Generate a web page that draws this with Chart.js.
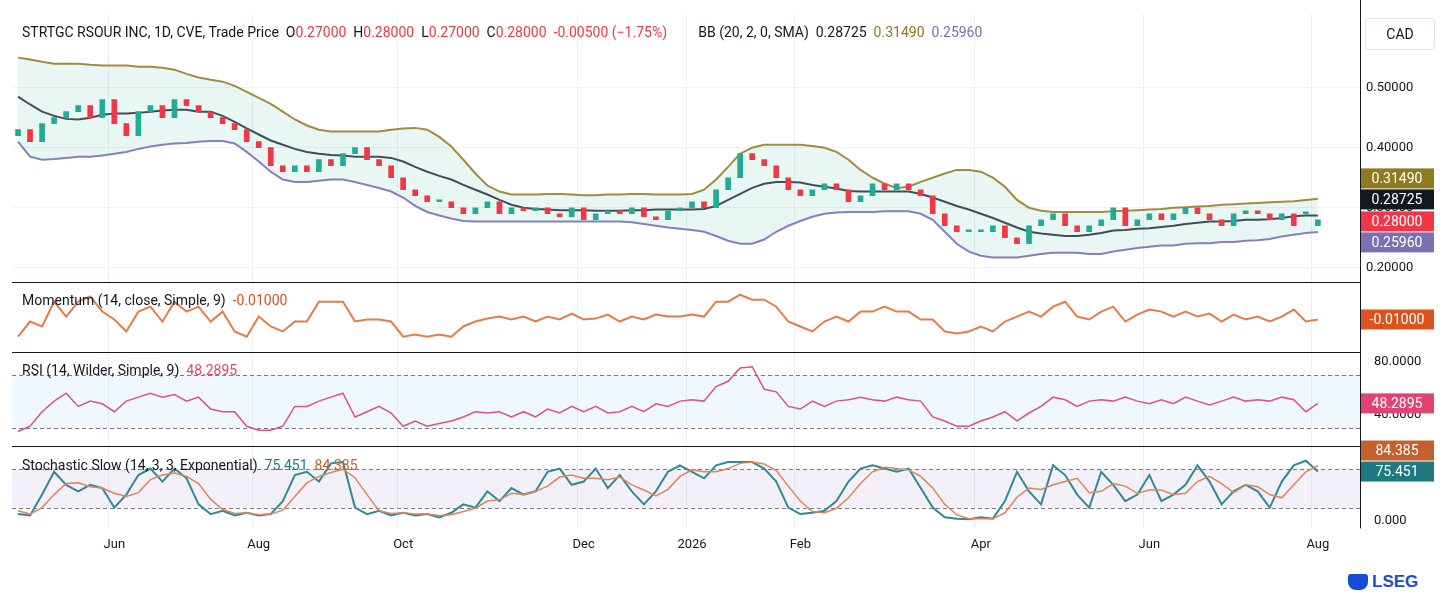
<!DOCTYPE html>
<html><head><meta charset="utf-8">
<script src="https://cdn.jsdelivr.net/npm/chart.js@4.4.1/dist/chart.umd.min.js"></script>
<style>
body{margin:0;background:#fff;font-family:Roboto,"Liberation Sans",sans-serif;}
#wrap{position:relative;width:1451px;height:598px;}
canvas{position:absolute;left:0;top:0;}
.t{position:absolute;font-size:14px;color:#131722;white-space:pre;}
.r{color:#f23645}
</style></head><body>
<div id="wrap">
<canvas id="c" width="1451" height="562"></canvas>
<div class="t" style="left:22px;top:24px">STRTGC RSOUR INC, 1D, CVE, Trade Price  O<span class="r">0.27000</span>  H<span class="r">0.28000</span>  L<span class="r">0.27000</span>  C<span class="r">0.28000</span>  <span class="r">-0.00500 (−1.75%)</span>         BB (20, 2, 0, SMA)  0.28725  <span style="color:#8f7a1e">0.31490</span>  <span style="color:#7e6fb3">0.25960</span></div>
<div class="t" style="left:22px;top:292px">Momentum (14, close, Simple, 9)  <span style="color:#d9531e">-0.01000</span></div>
<div class="t" style="left:22px;top:362px">RSI (14, Wilder, Simple, 9)  <span style="color:#e0436f">48.2895</span></div>
<div class="t" style="left:22px;top:457px">Stochastic Slow (14, 3, 3, Exponential)  <span style="color:#1f7a80">75.451</span>  <span style="color:#c4602e">84.385</span></div>
<div style="position:absolute;left:1365px;top:18px;width:68px;height:30px;border:1px solid #e0e3eb;border-radius:4px;font-size:14px;line-height:30px;text-align:center;color:#131722">CAD</div>
<div style="position:absolute;left:1372px;top:572px;font:bold 17px 'Liberation Sans',sans-serif;color:#1a4bd6">LSEG</div>
<div style="position:absolute;left:1348px;top:574px;width:20px;height:16px;background:#1a4bd6;border-radius:3px 3px 8px 8px"></div>
</div>
<script>
const monthLabels={8:'Jun',20:'Aug',32:'Oct',47:'Dec',56:'2026',65:'Feb',80:'Apr',94:'Jun',108:'Aug'};
const N=112;
const labels=Array.from({length:N},(_,i)=>monthLabels[i]||'');
const opens=[.42,.43,.41,.44,.45,.46,.47,.45,.48,.44,.42,.46,.47,.45,.48,.47,.46,.45,.44,.43,.41,.40,.37,.36,.37,.36,.38,.37,.39,.40,.38,.37,.35,.33,.32,.31,.31,.30,.29,.30,.31,.29,.30,.295,.30,.29,.285,.30,.28,.29,.295,.29,.30,.285,.28,.295,.30,.31,.30,.33,.35,.39,.38,.37,.35,.33,.32,.33,.34,.33,.31,.32,.34,.33,.34,.33,.32,.29,.27,.26,.26,.26,.27,.25,.24,.27,.28,.29,.27,.26,.27,.28,.30,.27,.28,.29,.28,.29,.30,.29,.28,.27,.29,.295,.29,.28,.29,.29,.27];
const closes=[.43,.41,.44,.45,.46,.47,.45,.48,.44,.42,.46,.47,.45,.48,.47,.46,.45,.44,.43,.41,.40,.37,.36,.37,.36,.38,.37,.39,.40,.38,.37,.35,.33,.32,.31,.31,.30,.29,.30,.31,.29,.30,.295,.30,.29,.285,.30,.28,.29,.295,.29,.30,.285,.28,.295,.30,.31,.30,.33,.35,.39,.38,.37,.35,.33,.32,.33,.34,.33,.31,.32,.34,.33,.34,.33,.32,.29,.27,.26,.26,.26,.27,.25,.24,.27,.28,.29,.27,.26,.27,.28,.30,.27,.28,.29,.28,.29,.30,.29,.28,.27,.29,.295,.29,.28,.29,.27,.29,.28];
const bbUpper=[.550,.547,.543,.540,.540,.540,.538,.537,.537,.537,.535,.535,.533,.530,.523,.517,.513,.510,.503,.493,.483,.473,.460,.447,.437,.430,.427,.427,.427,.427,.427,.430,.432,.433,.430,.418,.402,.380,.357,.337,.327,.322,.322,.322,.323,.323,.322,.321,.321,.322,.322,.323,.323,.322,.322,.322,.323,.330,.347,.368,.390,.400,.405,.405,.405,.405,.403,.400,.393,.380,.363,.350,.340,.333,.335,.343,.350,.357,.363,.363,.360,.350,.335,.313,.300,.295,.293,.293,.293,.293,.293,.294,.295,.296,.297,.298,.300,.301,.302,.303,.305,.306,.307,.308,.309,.310,.311,.313,.3149];
const bbMid=[.485,.472,.460,.453,.448,.447,.450,.455,.457,.457,.458,.460,.462,.463,.463,.460,.460,.453,.443,.432,.422,.412,.405,.398,.393,.390,.388,.387,.385,.385,.385,.383,.377,.368,.360,.353,.347,.338,.330,.322,.313,.305,.300,.298,.297,.296,.296,.296,.295,.295,.295,.296,.296,.297,.297,.297,.297,.298,.303,.313,.323,.333,.340,.343,.343,.342,.338,.335,.332,.328,.327,.327,.327,.327,.327,.323,.317,.310,.303,.297,.290,.283,.275,.267,.260,.257,.255,.253,.253,.255,.258,.262,.263,.265,.266,.268,.270,.273,.275,.277,.277,.278,.280,.280,.281,.283,.286,.287,.28725];
const bbLower=[.410,.385,.380,.381,.383,.385,.385,.387,.390,.393,.398,.402,.405,.407,.408,.410,.411,.411,.407,.393,.377,.360,.347,.343,.343,.345,.347,.347,.343,.338,.333,.327,.317,.303,.293,.287,.282,.278,.277,.277,.277,.277,.277,.277,.277,.277,.277,.277,.277,.277,.277,.276,.273,.270,.267,.265,.263,.260,.253,.245,.240,.240,.247,.260,.270,.278,.285,.290,.292,.293,.293,.293,.294,.294,.294,.290,.280,.260,.240,.227,.220,.217,.217,.217,.220,.223,.225,.225,.225,.223,.223,.227,.230,.233,.235,.237,.237,.240,.241,.241,.243,.243,.245,.246,.248,.252,.255,.258,.2596];
const momentum=[-.069,-.017,-.034,.051,0,.051,.069,.017,-.010,-.051,.017,.034,-.017,.051,.017,.034,-.017,.017,-.051,-.069,0,-.034,-.051,-.017,-.017,.051,.051,.051,-.017,-.010,-.010,-.017,-.069,-.062,-.069,-.062,-.069,-.034,-.017,-.007,0,-.010,0,-.017,0,-.010,.010,-.010,-.007,.007,-.017,0,-.010,.007,0,0,.007,0,.051,.051,.075,.058,.058,.034,-.017,-.034,-.051,-.017,0,-.017,.017,.017,.034,.017,.017,-.010,-.010,-.051,-.058,-.051,-.034,-.051,-.017,0,.017,0,.034,.051,0,-.010,.017,.034,-.017,.007,.024,.017,0,.017,0,.010,-.017,.007,-.010,0,-.017,0,.024,-.017,-.010];
const rsi=[27,31,42,50,56,46,50,48,42,50,53,56,53,55,50,53,44,42,42,31,28,28,31,46,46,50,53,56,38,42,46,41,31,35,31,33,35,38,42,41,42,38,42,38,44,41,46,42,46,41,42,46,42,48,46,50,51,50,61,65,75,76,59,57,46,44,50,46,50,51,53,51,50,53,51,50,38,35,31,31,35,38,42,35,41,46,53,51,46,50,51,50,53,50,48,51,48,53,50,47,50,53,50,51,50,53,51,42,48.2895];
const stochK=[10,8,40,75,55,45,55,50,20,40,70,80,60,80,65,25,10,15,8,12,8,10,30,70,75,60,88,90,20,10,15,8,12,8,10,5,12,25,20,45,30,50,40,45,75,80,55,60,80,50,70,45,25,45,75,85,75,65,85,90,90,90,80,60,20,10,12,15,30,60,80,85,80,75,80,50,20,5,3,2,5,3,30,75,45,25,85,70,40,20,75,55,30,40,70,30,40,55,85,60,25,45,55,45,20,60,85,92,75.451];
const stochD=[15,10,20,40,57,58,52,50,42,37,43,63,70,73,68,57,33,17,11,12,9,10,16,37,58,68,74,79,66,40,15,11,12,10,10,8,9,14,19,30,32,42,40,45,53,67,70,65,65,63,67,55,47,38,48,68,78,75,75,80,88,90,87,77,53,30,14,12,19,35,57,75,82,80,78,68,50,25,9,3,3,3,12,36,50,48,55,60,65,43,45,57,53,42,47,47,40,42,60,68,57,43,55,52,40,35,55,75,84.385];
const priceTicks=[.2,.3,.4,.5], rsiTicks=[40,80], stochTicks=[0];
const rsiBand=[70,30], stochBand=[80,20];

const GREEN='#22ab94', RED='#f23645';
const bodies=opens.map((o,i)=>[o,closes[i]]);
const bodyColors=opens.map((o,i)=>closes[i]>=o?GREEN:RED);
const fixW=s=>{s.width=91;};
const setTicks=arr=>s=>{s.ticks=arr.map(v=>({value:v}));};
const last=a=>a[a.length-1];

const panels={
  id:'panels',
  beforeDatasetsDraw(ch){
    const c=ch.ctx, a=ch.chartArea;
    const band=(id,lv,fill)=>{const s=ch.scales[id];const y1=s.getPixelForValue(lv[0]),y2=s.getPixelForValue(lv[1]);
      c.save();c.fillStyle=fill;c.fillRect(a.left,y1,a.right-a.left,y2-y1);
      c.strokeStyle='#787b86';c.setLineDash([4,3]);c.lineWidth=1;
      [y1,y2].forEach(y=>{c.beginPath();c.moveTo(a.left,Math.round(y)+.5);c.lineTo(a.right,Math.round(y)+.5);c.stroke();});c.restore();};
    band('rsi',rsiBand,'rgba(33,150,243,0.07)');
    band('st',stochBand,'rgba(126,87,194,0.09)');
  },
  afterDraw(ch){
    const c=ch.ctx,a=ch.chartArea;
    c.save();c.strokeStyle='#131722';c.lineWidth=1;
    ['price','mom','rsi'].forEach(id=>{const y=Math.round(ch.scales[id].bottom)+.5;c.beginPath();c.moveTo(a.left,y);c.lineTo(a.right,y);c.stroke();});
    c.beginPath();c.moveTo(a.right+.5,0);c.lineTo(a.right+.5,a.bottom);c.stroke();
    const boxAt=(y,t,bg)=>{c.fillStyle=bg;c.fillRect(a.right+1,y-10,73,20);
      c.fillStyle='#fff';c.font='14px Roboto';c.textAlign='center';c.textBaseline='middle';c.fillText(t,a.right+37,y+1);};
    const ps=ch.scales.price, ym=ps.getPixelForValue(last(bbMid));
    boxAt(ym-37,'0.31490','#8f7a1e');
    boxAt(ym-16,'0.28725','#131722');
    boxAt(ym+6,'0.28000',RED);
    boxAt(ym+27,'0.25960','#7e6fb3');
    boxAt(ch.scales.mom.getPixelForValue(last(momentum)),'-0.01000','#d9531e');
    boxAt(ch.scales.rsi.getPixelForValue(last(rsi)),'48.2895','#e0436f');
    const ys=ch.scales.st.getPixelForValue(last(stochK));
    boxAt(ys-21,'84.385','#c4602e');
    boxAt(ys,'75.451','#1f7a80');
    c.restore();
  }
};
const line=(data,color,axis,extra={})=>Object.assign({type:'line',data,yAxisID:axis,borderColor:color,borderWidth:1.5,pointRadius:0,tension:0,fill:false},extra);

new Chart(document.getElementById('c'),{
  data:{labels,datasets:[
    line(bbUpper,'#a08c3c','price',{fill:'+2',backgroundColor:'rgba(34,171,148,0.10)',borderWidth:2}),
    line(bbMid,'#434651','price',{borderWidth:2}),
    line(bbLower,'#8a7fc0','price',{borderWidth:2}),
    {type:'bar',data:bodies,yAxisID:'price',backgroundColor:bodyColors,barThickness:5,minBarLength:2,order:-1},
    line(momentum,'#e47c48','mom',{borderWidth:2}),
    line(rsi,'#e0517f','rsi'),
    line(stochD,'#e0845c','st'),
    line(stochK,'#2e8a94','st',{borderWidth:2})
  ]},
  options:{responsive:false,animation:false,layout:{padding:{left:12,top:12,right:0,bottom:0}},
    plugins:{legend:{display:false},tooltip:{enabled:false}},
    scales:{
      x:{ticks:{autoSkip:false,maxRotation:0,padding:9,color:'#131722',font:{size:13,family:'Roboto'},callback:(v,i)=>labels[i]},
         grid:{color:c=>labels[c.index]?'#eef0f3':'rgba(0,0,0,0)',drawTicks:false},border:{display:false}},
      price:{position:'right',stack:'s',stackWeight:268,min:.177,max:.623,afterFit:fixW,afterBuildTicks:setTicks(priceTicks),
         ticks:{color:'#131722',font:{size:13,family:'Roboto'},padding:6,callback:v=>v.toFixed(5)},grid:{color:'#f0f3fa',drawTicks:false},border:{display:false}},
      mom:{position:'right',stack:'s',stackWeight:70,min:-0.12,max:0.12,afterFit:fixW,ticks:{display:false},grid:{display:false},border:{display:false}},
      rsi:{position:'right',stack:'s',stackWeight:95,min:15.7,max:87.5,afterFit:fixW,afterBuildTicks:setTicks(rsiTicks),
         ticks:{color:'#131722',font:{size:13,family:'Roboto'},padding:6,callback:v=>v.toFixed(4)},grid:{display:false},border:{display:false}},
      st:{position:'right',stack:'s',stackWeight:82,min:-12,max:114,afterFit:fixW,afterBuildTicks:setTicks(stochTicks),
         ticks:{color:'#131722',font:{size:13,family:'Roboto'},padding:6,callback:v=>v.toFixed(3)},grid:{display:false},border:{display:false}}
    }},
  plugins:[panels]
});
</script></body></html>
